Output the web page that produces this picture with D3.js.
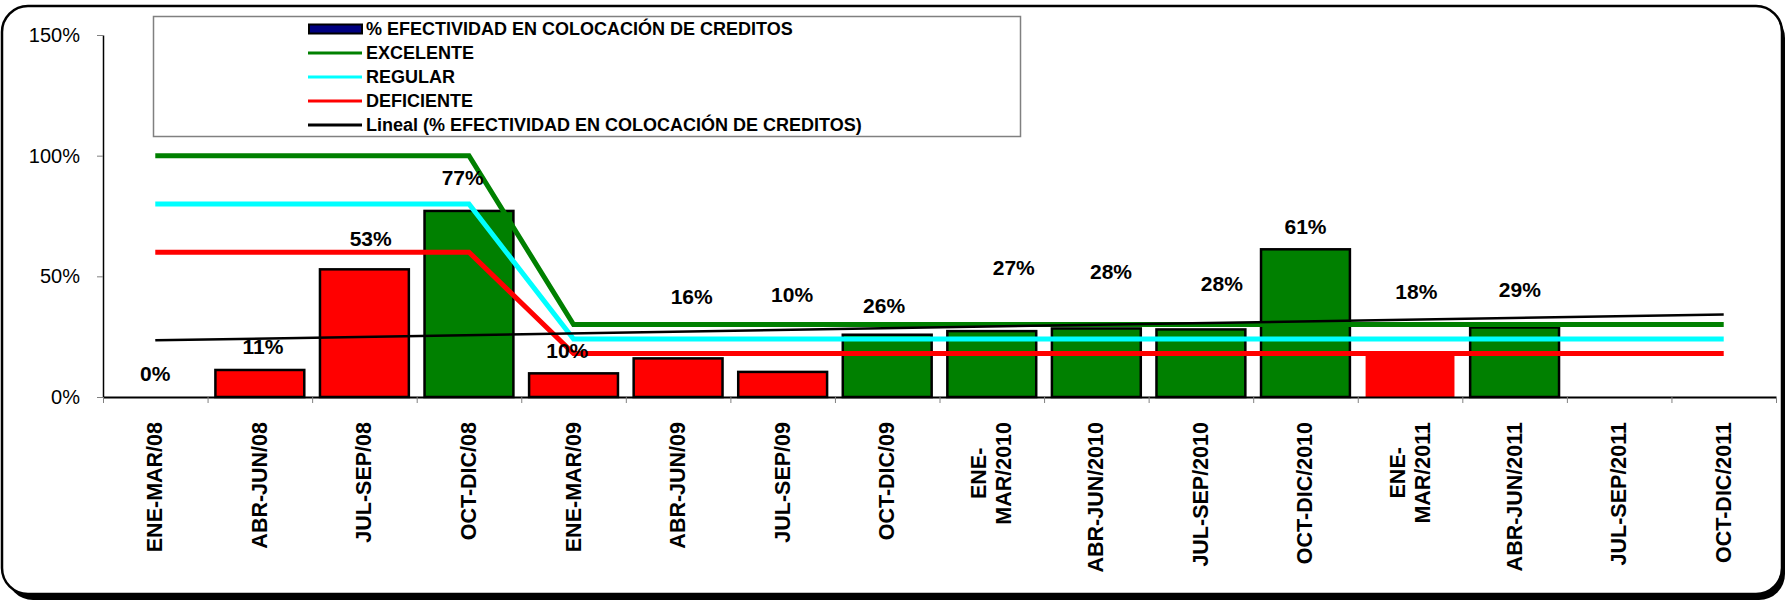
<!DOCTYPE html>
<html>
<head>
<meta charset="utf-8">
<script src="https://cdn.jsdelivr.net/npm/d3@7"></script>
<style>
  body { margin: 0; background: #fff; }
  text { font-family: "Liberation Sans", Arial, sans-serif; }
</style>
</head>
<body>
<svg id="chart" width="1791" height="605"></svg>
<script>
// periods on the x axis ("\n" = line break in the tick label)
const categories = [
  "ENE-MAR/08", "ABR-JUN/08", "JUL-SEP/08", "OCT-DIC/08",
  "ENE-MAR/09", "ABR-JUN/09", "JUL-SEP/09", "OCT-DIC/09",
  "ENE-\nMAR/2010", "ABR-JUN/2010", "JUL-SEP/2010", "OCT-DIC/2010",
  "ENE-\nMAR/2011", "ABR-JUN/2011", "JUL-SEP/2011", "OCT-DIC/2011"
];

// % efectividad en colocación de créditos (bars)
const efectividad = [0, 11.2, 52.9, 77.1, 9.8, 16.0, 10.4, 25.8, 27.3, 28.4, 28.0, 61.2, 18.4, 28.8];
// rating of each bar: E = excelente (green), D = deficiente (red)
const rating = ["D", "D", "D", "E", "D", "D", "D", "E", "E", "E", "E", "E", "D", "E"];
const unframed = ["ENE-\nMAR/2011"];

// reference lines
const excelente  = [100, 100, 100, 100, 30, 30, 30, 30, 30, 30, 30, 30, 30, 30, 30, 30];
const regular    = [80, 80, 80, 80, 24, 24, 24, 24, 24, 24, 24, 24, 24, 24, 24, 24];
const deficiente = [60, 60, 60, 60, 18, 18, 18, 18, 18, 18, 18, 18, 18, 18, 18, 18];

// linear trend (Lineal) at first and last period
const trendEnds = [23.5, 34.2];

// where the data labels were placed (value units) and shifted sideways (bands)
const labelLevel = [9.6, 21.1, 65.8, 90.8, 19.2, 41.6, 42.5, 38.1, 53.6, 52.2, 47.1, 70.6, 43.6, 44.6];
const labelShift = [0, 0.03, 0.06, -0.06, -0.06, 0.13, 0.09, -0.03, 0.21, 0.14, 0.2, 0, 0.06, 0.05];

const yTicks = [0, 50, 100, 150];

const legendItems = [
  { name: "% EFECTIVIDAD EN COLOCACIÓN DE CREDITOS", type: "bar", color: "#000080" },
  { name: "EXCELENTE", type: "line", color: "#008000" },
  { name: "REGULAR", type: "line", color: "#00FFFF" },
  { name: "DEFICIENTE", type: "line", color: "#FF0000" },
  { name: "Lineal (% EFECTIVIDAD EN COLOCACIÓN DE CREDITOS)", type: "line", color: "#000000" }
];

const colors = { E: "#008000", D: "#FF0000" };

const svg = d3.select("#chart");

// frame with shadow
svg.append("rect")
  .attr("x", 7).attr("y", 12).attr("width", 1778).attr("height", 588)
  .attr("rx", 26).attr("fill", "#000");
svg.append("rect")
  .attr("x", 2).attr("y", 6).attr("width", 1780).attr("height", 588)
  .attr("rx", 26).attr("fill", "#fff").attr("stroke", "#000").attr("stroke-width", 2.5);

const plotLeft = 103, plotRight = 1776, plotTop = 35, plotBottom = 397;

const x = d3.scaleBand()
  .domain(categories)
  .range([plotLeft, plotRight])
  .paddingInner(0.15)
  .paddingOuter(0.075);
const cx = i => x(categories[i]) + x.bandwidth() / 2;

const xEdge = d3.scaleLinear().domain([0, categories.length]).range([plotLeft, plotRight]);

const y = d3.scaleLinear().domain([0, 150]).range([plotBottom, plotTop]);

// y axis
const yAxisG = svg.append("g")
  .attr("transform", `translate(${plotLeft},0)`)
  .call(d3.axisLeft(y).tickValues(yTicks).tickFormat(d => d + "%").tickSize(6).tickSizeOuter(0).tickPadding(17));
yAxisG.select(".domain").attr("stroke", "#000").attr("stroke-width", 1.5);
yAxisG.selectAll(".tick line").attr("stroke", "#808080");
yAxisG.selectAll(".tick text")
  .attr("font-size", 20)
  .attr("font-family", "Liberation Sans, Arial, sans-serif")
  .attr("fill", "#000");

// bars
svg.append("g").selectAll("rect")
  .data(efectividad)
  .join("rect")
    .attr("x", (d, i) => x(categories[i]))
    .attr("y", d => y(d))
    .attr("width", x.bandwidth())
    .attr("height", d => y(0) - y(d))
    .attr("fill", (d, i) => colors[rating[i]])
    .attr("stroke", (d, i) => unframed.includes(categories[i]) || d === 0 ? "none" : "#000")
    .attr("stroke-width", 2.5);

// x axis (ticks between periods)
const xAxisG = svg.append("g")
  .attr("transform", `translate(0,${plotBottom})`)
  .call(d3.axisBottom(xEdge).tickValues(d3.range(categories.length + 1)).tickFormat("").tickSize(6).tickSizeOuter(0));
xAxisG.select(".domain").attr("stroke", "#000").attr("stroke-width", 2);
xAxisG.selectAll(".tick line").attr("stroke", "#808080");

// rotated period labels
categories.forEach((c, i) => {
  const lines = c.split("\n");
  const g = svg.append("g").attr("transform", `translate(${cx(i)},422) rotate(-90)`);
  const texts = lines.map((ln, k) => g.append("text")
    .attr("y", (k - (lines.length - 1) / 2) * 25)
    .attr("dominant-baseline", "central")
    .attr("text-anchor", "middle")
    .attr("font-size", 21.5)
    .attr("font-weight", "bold")
    .text(ln));
  const w = d3.max(texts, t => t.node().getComputedTextLength());
  texts.forEach(t => t.attr("x", -w / 2));
});

// reference lines
const line = d3.line().x((d, i) => cx(i)).y(d => y(d));
[[excelente, "#008000"], [regular, "#00FFFF"], [deficiente, "#FF0000"]].forEach(([s, col]) => {
  svg.append("path")
    .attr("d", line(s))
    .attr("fill", "none")
    .attr("stroke", col)
    .attr("stroke-width", 5);
});

// trend line
svg.append("path")
  .attr("d", d3.line().x(d => cx(d[0])).y(d => y(d[1]))([[0, trendEnds[0]], [categories.length - 1, trendEnds[1]]]))
  .attr("fill", "none")
  .attr("stroke", "#000")
  .attr("stroke-width", 2.5);

// data labels
svg.append("g").selectAll("text")
  .data(efectividad)
  .join("text")
    .attr("x", (d, i) => cx(i) + labelShift[i] * x.step())
    .attr("y", (d, i) => y(labelLevel[i]))
    .attr("text-anchor", "middle")
    .attr("dominant-baseline", "central")
    .attr("font-size", 21)
    .attr("font-weight", "bold")
    .text(d => Math.round(d) + "%");

// legend
const lg = svg.append("g");
lg.append("rect")
  .attr("x", 153.5).attr("y", 16.5).attr("width", 867).attr("height", 120)
  .attr("fill", "#fff").attr("stroke", "#808080").attr("stroke-width", 1.5);
legendItems.forEach((it, i) => {
  const yy = 29 + i * 24;
  if (it.type === "bar") {
    lg.append("rect")
      .attr("x", 309).attr("y", yy - 4.5).attr("width", 53).attr("height", 9)
      .attr("fill", it.color).attr("stroke", "#000").attr("stroke-width", 2);
  } else {
    lg.append("line")
      .attr("x1", 308).attr("x2", 362).attr("y1", yy).attr("y2", yy)
      .attr("stroke", it.color).attr("stroke-width", 3);
  }
  lg.append("text")
    .attr("x", 366).attr("y", yy)
    .attr("dominant-baseline", "central")
    .attr("font-size", 18)
    .attr("font-weight", "bold")
    .text(it.name);
});
</script>
</body>
</html>
